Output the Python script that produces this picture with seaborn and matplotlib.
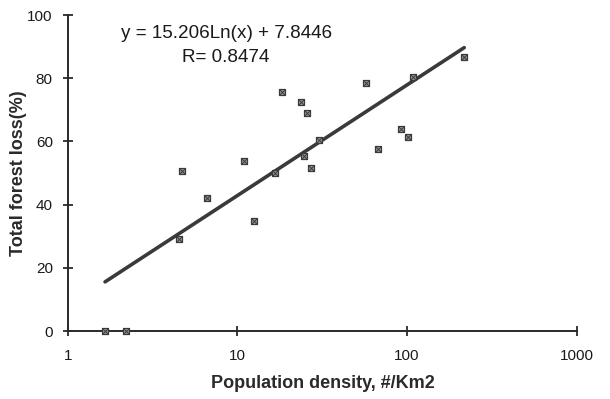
import numpy as np
import pandas as pd
import matplotlib
matplotlib.use("Agg")
import matplotlib.pyplot as plt
import seaborn as sns

# Data
density = [1.66, 2.21, 4.55, 4.70, 6.59, 10.98, 12.58, 16.66, 18.24, 23.7,
           24.8, 25.8, 27.1, 30.4, 57.0, 67.7, 92.1, 101.6, 107.9, 217.3]
forest_loss = [0.0, 0.0, 29.0, 50.7, 42.0, 53.8, 34.8, 49.9, 75.7, 72.4,
               55.4, 68.9, 51.7, 60.4, 78.4, 57.6, 63.9, 61.3, 80.5, 86.8]
fit_slope = 15.206
fit_intercept = 7.8446
fit_r = 0.8474
x_ticks = [1, 10, 100, 1000]
x_ticklabels = ["1", "10", "100", "1000"]
y_ticks = [0, 20, 40, 60, 80, 100]

sns.set_theme(style="ticks")
plt.rcParams["font.family"] = ["Liberation Sans", "DejaVu Sans"]

df = pd.DataFrame({"density": density, "loss": forest_loss})
xf = np.geomspace(min(density), max(density), 50)
fit_df = pd.DataFrame({"density": xf, "loss": fit_slope * np.log(xf) + fit_intercept})

fig = plt.figure(figsize=(6.10, 3.99), dpi=100)
ax = fig.add_axes([0.111, 0.1704, 0.8344, 0.792])

sns.lineplot(data=fit_df, x="density", y="loss", ax=ax, color="#3a3a3a",
             linewidth=2.6, zorder=3)
sns.scatterplot(data=df, x="density", y="loss", ax=ax, marker="s", s=24,
                color="#9a9a9a", edgecolor="#3a3a3a", linewidth=0.9,
                zorder=4, clip_on=False)
sns.scatterplot(data=df, x="density", y="loss", ax=ax, marker="x", s=13,
                color="#3a3a3a", linewidth=0.7, zorder=5, clip_on=False)

ax.set_xscale("log")
ax.set_xlim(1, 1000)
ax.set_ylim(0, 100)
ax.set_xticks(x_ticks)
ax.set_xticklabels(x_ticklabels)
ax.xaxis.set_minor_locator(matplotlib.ticker.NullLocator())
ax.set_yticks(y_ticks)

for side in ["top", "right"]:
    ax.spines[side].set_visible(False)
for side in ["left", "bottom"]:
    ax.spines[side].set_color("#2a2a2a")
    ax.spines[side].set_linewidth(1.4)

ax.tick_params(axis="both", direction="inout", length=7.5, width=1.3,
               color="#2a2a2a", labelsize=11, labelcolor="#1a1a1a")
ax.tick_params(axis="y", pad=7)
ax.tick_params(axis="x", pad=9)

ax.set_xlabel("Population density, #/Km2", fontsize=13, fontweight="bold",
              color="#2a2a2a")
ax.set_ylabel("Total forest loss(%)", fontsize=13, fontweight="bold",
              color="#2a2a2a")
ax.xaxis.set_label_coords(0.502, -0.138)
ax.yaxis.set_label_coords(-0.08, 0.5)

ax.text(0.313, 0.94, f"y = {fit_slope}Ln(x) + {fit_intercept}",
        transform=ax.transAxes, ha="center", va="center", fontsize=13.6,
        color="#1a1a1a")
ax.text(0.311, 0.865, f"R= {fit_r}", transform=ax.transAxes,
        ha="center", va="center", fontsize=13.6, color="#1a1a1a")

fig.savefig("out.png", dpi=100)
